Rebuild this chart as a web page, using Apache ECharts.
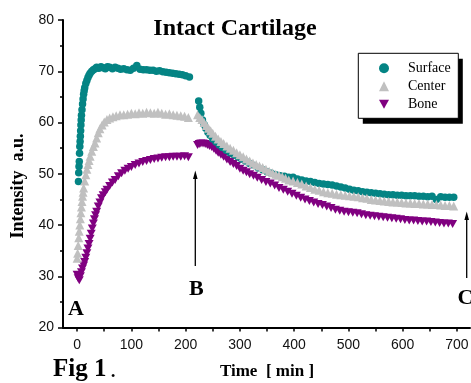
<!DOCTYPE html>
<html>
<head>
<meta charset="utf-8">
<script src="https://cdn.jsdelivr.net/npm/echarts@6/dist/echarts.min.js"></script>
<style>
html,body{margin:0;padding:0;background:#fff;}
#chart{width:471px;height:383px;}
</style>
</head>
<body>
<div id="chart"></div>
<script>
// ---- data (time in min, intensity in a.u.) ----
var seriesNames = ['Surface', 'Center', 'Bone'];

var surfaceRise = [
  [2.5,48.5],[3,50.2],[3.5,51.4],[4,52.4],[4.5,54],[5,55.3],[5.5,56.3],[6,57.3],[6.5,58.4],[7,59.5],
  [7.5,60.5],[8,61.4],[9,62.5],[10,63.6],[11,64.6],[12,65.5],[13,66.2],[14,66.8],[16,67.6],[18,68.2],
  [20,68.8],[22,69.2],[24,69.6],[27,70],[30,70.3],[33,70.5],[36,70.8],[40,70.6],[44,70.9],[48,70.7],
  [52,70.5],[56,70.9],[60,70.8],[65,70.5],[70,70.8],[75,70.6],[80,70.4],[86,70.5],[92,70.3],[98,70.2],
  [104,70.6],[110,71.1],[116,70.4],[122,70.3],[128,70.3],[134,70.2],[140,70.2],[146,70.0],[152,70.1],[158,69.9],
  [164,69.8],[170,69.7],[176,69.6],[182,69.5],[188,69.4],[194,69.3],[200,69.1],[207,68.9]
];
var surfaceDecay = [
  [224,64.2],[226,63.0],[228,61.8],[231,60.5],[234,59.6],[237,58.9],[241,58.1],[245,57.5],[250,56.8],
  [256,56.2],[262,55.6],[268,55.1],[275,54.6],[282,54.1],[289,53.7],[296,53.3],[303,52.9],[310,52.5],
  [318,52.0],[326,51.6],[334,51.1],[342,50.8],[350,50.4],[358,50.1],[366,49.8],[374,49.6],[382,49.5],[390,49.3],
  [398,49.3],[406,49.0],[414,48.8],[422,48.6],[430,48.5],[438,48.3],[446,48.1],[454,48.0],[462,47.9],[470,47.8],
  [478,47.6],[486,47.4],[494,47.2],[502,47.0],[510,46.8],[518,46.7],[526,46.5],[534,46.4],[542,46.3],[550,46.2],
  [558,46.1],[566,46.0],[574,45.9],[582,45.9],[590,45.8],[598,45.8],[606,45.7],[614,45.7],[622,45.7],[630,45.6],
  [638,45.6],[646,45.5],[654,45.6],[662,45.0],[670,45.5],[678,45.4],[686,45.4],[694,45.4]
];

var centerRise = [
  [0,33.5],[1,34.5],[2,36],[3,37.5],[4,38.8],[5,40],[6,41.2],[7,42.4],[8,43.5],[9,44.6],
  [10,45.6],[11,46.4],[12,47.2],[14,48.6],[16,49.8],[18,50.9],[20,51.8],[22,52.6],[24,53.4],[27,54.4],
  [30,55.3],[33,56],[36,57],[39,58],[42,58.8],[46,59.5],[50,60.1],[55,60.6],[60,60.9],[66,61.1],
  [72,61.3],[79,61.5],[86,61.5],[93,61.6],[100,61.8],[107,61.7],[114,61.9],[121,61.8],[128,62],[135,61.9],
  [142,61.8],[149,62],[156,61.8],[163,61.6],[170,61.7],[177,61.5],[184,61.4],[191,61.3],[198,61.2],[205,61.0]
];
var centerDecay = [
  [222,61.5],[226,61.0],[230,60.6],[234,60.0],[238,59.4],[242,58.9],[246,58.4],[250,57.9],[255,57.3],[260,56.8],
  [265,56.3],[270,55.9],[276,55.4],[282,55.0],[288,54.6],[294,54.1],[300,53.7],[306,53.3],[312,52.9],[318,52.5],
  [324,52.1],[330,51.8],[336,51.5],[342,51.2],[348,50.9],[354,50.5],[360,50.2],[366,49.9],[372,49.7],[378,49.4],
  [384,49.1],[390,48.8],[398,48.6],[406,48.3],[414,48.0],[422,47.6],[430,47.3],[438,47.0],[446,46.8],[454,46.5],
  [462,46.3],[470,46.2],[478,46.0],[486,45.9],[494,45.8],[502,45.7],[510,45.6],[518,45.5],[526,45.3],[534,45.2],
  [542,45.0],[550,44.9],[558,44.8],[566,44.7],[574,44.6],[582,44.5],[590,44.5],[598,44.4],[606,44.3],[614,44.3],
  [622,44.2],[630,44.2],[638,44.1],[646,44.1],[654,44.0],[662,44.0],[670,43.9],[678,43.8],[686,43.8],[694,43.7]
];

var boneRise = [
  [0,30.3],[2,29.6],[4,29.2],[6,30],[8,30.8],[10,31.5],[12,32.1],[14,32.8],[16,33.6],[18,34.5],
  [20,35.4],[22,36.3],[24,37.3],[26,38.3],[28,39.3],[30,40.3],[32,41.1],[34,41.9],[36,42.6],[39,43.6],
  [42,44.4],[45,45.2],[48,45.8],[52,46.4],[55,46.9],[60,47.6],[65,48.3],[70,48.8],[76,49.5],[82,50.1],
  [88,50.6],[94,51],[100,51.3],[107,51.7],[114,52],[121,52.3],[128,52.5],[135,52.7],[142,52.9],[149,53],
  [156,53.1],[163,53.2],[170,53.2],[177,53.3],[184,53.3],[191,53.3],[198,53.4],[205,53.2]
];
var boneDecay = [
  [222,55.6],[225,55.8],[228,55.9],[232,55.9],[236,55.8],[240,55.6],[244,55.4],[248,55.2],[252,54.9],[256,54.5],
  [260,54.1],[265,53.7],[270,53.3],[276,52.8],[282,52.3],[288,51.9],[294,51.5],[300,51.0],[306,50.6],[312,50.3],
  [318,49.9],[325,49.6],[332,49.2],[340,48.8],[348,48.4],[356,48.1],[364,47.7],[372,47.2],[380,46.9],[388,46.5],
  [396,46.1],[404,45.7],[412,45.3],[420,45.0],[428,44.7],[436,44.4],[444,44.1],[452,43.9],[460,43.6],[468,43.3],
  [476,43.0],[484,42.8],[492,42.6],[500,42.5],[508,42.4],[516,42.3],[524,42.1],[532,41.9],[540,41.8],[548,41.7],
  [556,41.6],[564,41.5],[572,41.4],[580,41.3],[588,41.2],[596,41.1],[604,41.0],[612,40.9],[620,40.9],[628,40.8],
  [636,40.7],[644,40.7],[652,40.6],[660,40.5],[668,40.4],[676,40.3],[684,40.3],[692,40.2]
];

// axis ticks / labels
var xLabelValues = [0, 100, 200, 300, 400, 500, 600, 700];
var xTickValues = [0, 50, 100, 150, 200, 250, 300, 350, 400, 450, 500, 550, 600, 650, 700];

// ---- chart ----
var serif = '"Liberation Serif", "Times New Roman", serif';
var sans = '"Liberation Sans", Arial, sans-serif';
var downTriangle = 'path://M0,0 L10,0 L5,9 Z';
var chart = echarts.init(document.getElementById('chart'), null, {renderer: 'canvas'});

function textEl(text, x, y, font, align, rot) {
  return {
    type: 'text', x: x, y: y, rotation: rot || 0, z: 20,
    style: {text: text, font: font, fill: '#000', align: align || 'left', verticalAlign: 'middle'}
  };
}

var option = {
  animation: false,
  backgroundColor: '#fff',
  grid: {left: 63, top: 20, right: 1, bottom: 55.5, containLabel: false, outerBoundsMode: 'none'},
  xAxis: {
    type: 'value', min: -26, max: 724,
    axisLine: {show: true, onZero: false, lineStyle: {color: '#000', width: 2}},
    axisTick: {show: true, customValues: xTickValues, length: 4, lineStyle: {color: '#000', width: 1.5}},
    axisLabel: {customValues: xLabelValues, margin: 11, color: '#111', fontSize: 14, fontFamily: sans},
    splitLine: {show: false}
  },
  yAxis: {
    type: 'value', min: 20, max: 80, interval: 10,
    axisLine: {show: true, onZero: false, lineStyle: {color: '#000', width: 2}},
    axisTick: {show: true, length: 5, lineStyle: {color: '#000', width: 1.5}},
    minorTick: {show: true, splitNumber: 2, length: 3, lineStyle: {color: '#000', width: 1.5}},
    axisLabel: {margin: 9, color: '#111', fontSize: 14, fontFamily: sans},
    splitLine: {show: false}
  },
  legend: {
    data: seriesNames,
    orient: 'vertical', left: 379, top: 61.3, padding: 0, z: 30,
    itemWidth: 10, itemHeight: 10, itemGap: 4,
    formatter: function (n) { return '    ' + n; },
    textStyle: {fontFamily: serif, fontSize: 14, lineHeight: 14, color: '#000'}
  },
  series: [
    {
      name: 'Bone', type: 'scatter', symbol: downTriangle, symbolSize: [9, 8],
      itemStyle: {color: '#800080', opacity: 1},
      data: boneRise.concat(boneDecay)
    },
    {
      name: 'Surface', type: 'scatter', symbol: 'circle', symbolSize: 7.5,
      itemStyle: {color: '#048484', opacity: 1},
      data: surfaceRise.concat(surfaceDecay)
    },
    {
      name: 'Center', type: 'scatter', symbol: 'triangle', symbolSize: 9,
      itemStyle: {color: '#c0c0c0', opacity: 1},
      data: centerRise.concat(centerDecay)
    }
  ],
  graphic: [
    // legend frame with hard shadow
    {type: 'rect', z: 25, shape: {x: 362.8, y: 58.8, width: 100, height: 65}, style: {fill: '#000'}},
    {type: 'rect', z: 26, shape: {x: 358.3, y: 53.3, width: 100, height: 65}, style: {fill: '#fff', stroke: '#000', lineWidth: 1}},
    // title and axis names
    textEl('Intact Cartilage', 235, 28.5, 'bold 24px ' + serif, 'center'),
    textEl('Intensity  a.u.', 18, 186, 'bold 18px ' + serif, 'center', Math.PI / 2),
    textEl('Time  [ min ]', 267, 371.5, 'bold 17px ' + serif, 'center'),
    textEl('Fig 1', 53, 370, 'bold 25px ' + serif, 'left'),
    textEl('.', 110, 370, '25px ' + serif, 'left'),
    // annotations
    textEl('A', 68, 309, 'bold 22px ' + serif, 'left'),
    textEl('B', 189, 289, 'bold 22px ' + serif, 'left'),
    textEl('C', 457.5, 298.5, 'bold 22px ' + serif, 'left'),
    {type: 'line', z: 20, shape: {x1: 195.3, y1: 266, x2: 195.3, y2: 177}, style: {stroke: '#000', lineWidth: 1.3}},
    {type: 'polygon', z: 20, shape: {points: [[195.3, 170.5], [193, 179], [197.6, 179]]}, style: {fill: '#000'}},
    {type: 'line', z: 20, shape: {x1: 466.7, y1: 278, x2: 466.7, y2: 218}, style: {stroke: '#000', lineWidth: 1.3}},
    {type: 'polygon', z: 20, shape: {points: [[466.7, 211.5], [464.4, 220], [469, 220]]}, style: {fill: '#000'}}
  ]
};
chart.setOption(option);
</script>
</body>
</html>
